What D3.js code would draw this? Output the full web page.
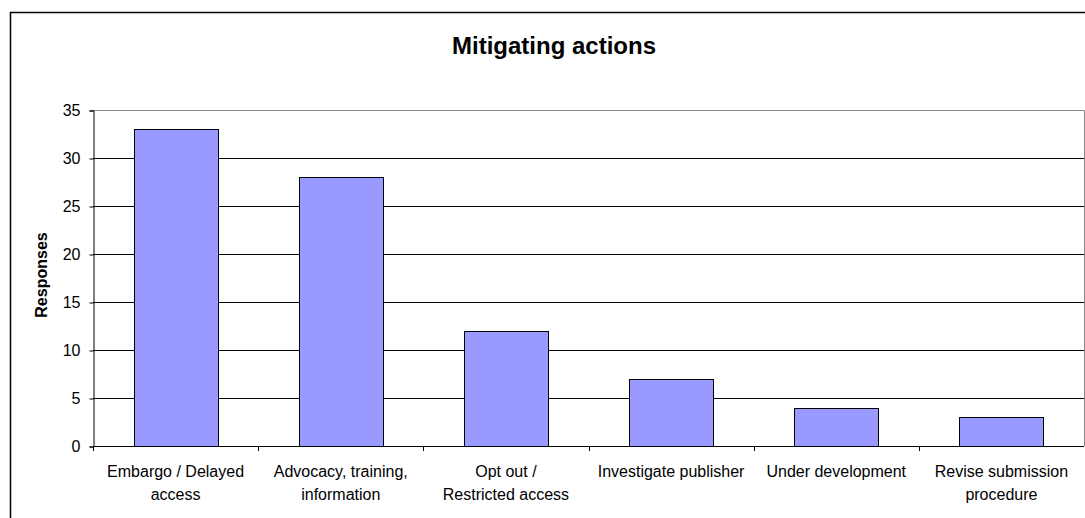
<!DOCTYPE html>
<html><head><meta charset="utf-8">
<script src="https://cdn.jsdelivr.net/npm/d3@7"></script>
<style>body{margin:0;background:#fff}svg{display:block}text{font-family:"Liberation Sans",Arial,sans-serif}</style>
</head><body>
<svg id="c" width="1085" height="518"></svg>
<script>
const categories = [["Embargo / Delayed","access"],["Advocacy, training,","information"],["Opt out /","Restricted access"],["Investigate publisher"],["Under development"],["Revise submission","procedure"]];
const values = [33, 28, 12, 7, 4, 3];
const yTicks = [0,5,10,15,20,25,30,35];
const title = "Mitigating actions";
const yLabel = "Responses";

const svg = d3.select("#c");
const m = {l:93, r:1084, t:110, b:446};
// outer chart border (cropped at right/bottom)
svg.append("path").attr("d","M10.5,520 L10.5,12.5 L1090,12.5").attr("fill","none").attr("stroke","#000").attr("stroke-width",1.5);

const x = d3.scaleBand().domain(d3.range(categories.length)).range([m.l,m.r]).paddingInner(0).paddingOuter(0);
const y = d3.scaleLinear().domain([0,35]).range([m.b,m.t]);

// gridlines
svg.append("g").selectAll("line").data(yTicks.filter(t=>t>0 && t<35)).join("line")
  .attr("x1",m.l).attr("x2",m.r).attr("y1",d=>Math.round(y(d))+0.5).attr("y2",d=>Math.round(y(d))+0.5)
  .attr("stroke","#000").attr("stroke-width",1);
// plot border top/right gray
svg.append("path").attr("d",`M${m.l},${Math.round(y(35))+0.5} L${m.r+0.5},${Math.round(y(35))+0.5} L${m.r+0.5},${m.b}`)
  .attr("fill","none").attr("stroke","#888").attr("stroke-width",1);

const bw = x.bandwidth()*0.508;
svg.append("g").selectAll("rect").data(values).join("rect")
  .attr("x",(d,i)=>Math.round(x(i)+x.bandwidth()/2-bw/2)+0.5)
  .attr("width",Math.round(bw))
  .attr("y",d=>Math.round(y(d))+0.5)
  .attr("height",d=>Math.round(y(0))-Math.round(y(d)))
  .attr("fill","#9999FF").attr("stroke","#000").attr("stroke-width",1);

// y axis
const ya = svg.append("g").attr("transform",`translate(${m.l+0.5},0.5)`)
  .call(d3.axisLeft(y).tickValues(yTicks).tickSize(4).tickPadding(9).tickFormat(d3.format("d")));
ya.select(".domain").attr("stroke","#000");
ya.selectAll("text").attr("font-size",16).attr("font-family","Liberation Sans, Arial, sans-serif").attr("fill","#000");

// x axis
svg.append("line").attr("x1",m.l).attr("x2",m.r).attr("y1",m.b+0.5).attr("y2",m.b+0.5).attr("stroke","#000");
const bounds = d3.range(categories.length+1).map(i=> i<categories.length ? x(i) : m.r);
svg.append("g").selectAll("line").data(bounds.slice(0,-1)).join("line")
  .attr("x1",d=>Math.round(d)+0.5).attr("x2",d=>Math.round(d)+0.5).attr("y1",m.b).attr("y2",m.b+5).attr("stroke","#000");

const xl = svg.append("g").selectAll("text").data(categories).join("text")
  .attr("x",(d,i)=>x(i)+x.bandwidth()/2).attr("y",m.b+31)
  .attr("text-anchor","middle").attr("font-size",16).attr("fill","#000");
xl.selectAll("tspan").data(d=>d).join("tspan")
  .attr("x",function(){return d3.select(this.parentNode).attr("x");})
  .attr("dy",(d,i)=>i===0?0:23).text(d=>d);

svg.append("text").attr("x",554).attr("y",54).attr("text-anchor","middle")
  .attr("font-size",24).attr("font-weight","bold").text(title);
svg.append("text").attr("transform",`translate(47,275) rotate(-90)`).attr("text-anchor","middle")
  .attr("font-size",16).attr("font-weight","bold").text(yLabel);
</script>
</body></html>
